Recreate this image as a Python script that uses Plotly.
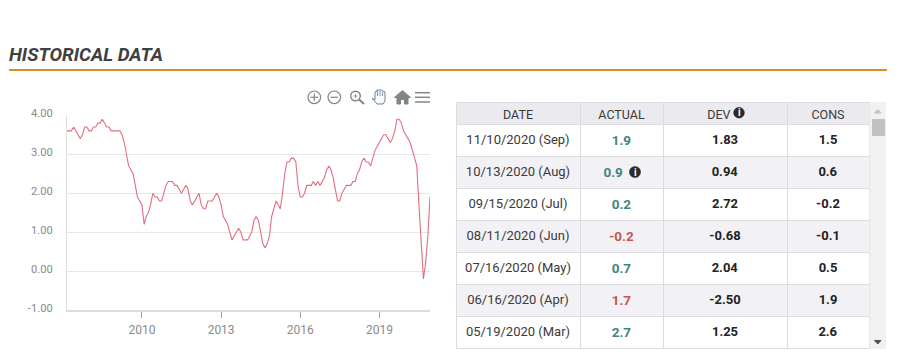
import plotly.graph_objects as go
import pandas as pd

# Monthly release dates, Feb 2007 .. Nov 2020
dates = pd.date_range("2007-02-10", periods=166, freq="MS").strftime("%Y-%m-%d").tolist()
values = [
 3.6,3.6,3.6,3.7,3.6,3.5,3.4,3.5,3.7,3.7,3.6,3.6,3.7,3.7,3.8,3.8,3.9,3.8,3.7,3.7,
 3.6,3.6,3.6,3.6,3.6,3.5,3.3,3.0,2.7,2.6,2.5,2.2,1.9,1.8,1.7,1.2,1.4,1.5,1.7,2.0,
 1.9,1.9,1.8,1.8,2.0,2.2,2.3,2.3,2.3,2.2,2.2,2.1,2.0,2.1,2.2,2.1,1.8,1.7,1.8,1.9,
 2.0,1.7,1.6,1.6,1.8,1.8,1.8,1.9,2.0,1.9,1.7,1.4,1.3,1.2,1.0,0.8,0.9,1.0,1.1,1.0,
 0.8,0.8,0.8,0.9,1.0,1.3,1.4,1.3,1.0,0.7,0.6,0.7,0.9,1.4,1.6,1.8,1.7,1.6,2.0,2.5,
 2.8,2.8,2.9,2.9,2.8,2.2,1.9,1.9,2.0,2.2,2.2,2.2,2.3,2.2,2.3,2.2,2.3,2.4,2.6,2.7,
 2.6,2.4,2.1,1.8,1.8,2.0,2.1,2.2,2.2,2.2,2.3,2.3,2.5,2.6,2.8,2.9,2.8,2.8,2.7,2.9,
 3.1,3.2,3.3,3.4,3.5,3.5,3.4,3.3,3.4,3.6,3.9,3.9,3.8,3.6,3.5,3.4,3.3,3.1,2.9,2.7,
 1.7,0.7,-0.2,0.2,0.9,1.9]
y_ticks = [4, 3, 2, 1, 0, -1]
y_labels = ["4.00", "3.00", "2.00", "1.00", "0.00", "-1.00"]
x_ticks = ["2010-01-01", "2013-01-01", "2016-01-01", "2019-01-01"]
x_labels = ["2010", "2013", "2016", "2019"]

headers = ["DATE", "ACTUAL", "DEV", "CONS"]
t_dates = ["11/10/2020 (Sep)", "10/13/2020 (Aug)", "09/15/2020 (Jul)", "08/11/2020 (Jun)",
           "07/16/2020 (May)", "06/16/2020 (Apr)", "05/19/2020 (Mar)"]
t_actual = ["1.9", "0.9", "0.2", "-0.2", "0.7", "1.7", "2.7"]
t_dev = ["1.83", "0.94", "2.72", "-0.68", "2.04", "-2.50", "1.25"]
t_cons = ["1.5", "0.6", "-0.2", "-0.1", "0.5", "1.9", "2.6"]

W, H = 902, 355
GREEN, RED = "#3f8683", "#c4564f"
DARK = "#3a3a3a"
ICON = "#7f8589"
FONT = "Roboto"

def px(x): return x / W
def py(y): return 1 - y / H

def path(*items):
    out = []
    for it in items:
        if isinstance(it, str):
            out.append(it)
        else:
            out.append(f"{px(it[0]):.5f},{py(it[1]):.5f}")
    return " ".join(out)

shapes, annos = [], []
def rect(x0, y0, x1, y1, fill, line=None):
    shapes.append(dict(type="rect", xref="paper", yref="paper", x0=px(x0), x1=px(x1), y0=py(y1), y1=py(y0),
                       fillcolor=fill, line=dict(width=0 if line is None else 1, color=line or fill), layer="above"))
def seg(x0, y0, x1, y1, color, w=1.5):
    shapes.append(dict(type="line", xref="paper", yref="paper", x0=px(x0), x1=px(x1), y0=py(y0), y1=py(y1),
                       line=dict(color=color, width=w), layer="above"))
def circ(cx, cy, r, color, fill="rgba(0,0,0,0)", w=1.5):
    shapes.append(dict(type="circle", xref="paper", yref="paper", x0=px(cx-r), x1=px(cx+r), y0=py(cy+r), y1=py(cy-r),
                       line=dict(color=color, width=w), fillcolor=fill, layer="above"))
def poly(pts, fill, line=None, w=1):
    d = "M " + " L ".join(path(p) for p in pts) + " Z"
    shapes.append(dict(type="path", xref="paper", yref="paper", path=d, fillcolor=fill,
                       line=dict(color=line or fill, width=w), layer="above"))
def text(x, y, s, size=12, color=DARK, anchor="center"):
    annos.append(dict(xref="paper", yref="paper", x=px(x), y=py(y), text=s, showarrow=False, xanchor=anchor,
                      yanchor="middle", font=dict(family=FONT, size=size, color=color)))

# heading
text(7, 55, "<b><i>HISTORICAL DATA</i></b>", size=18.8, color="#404040", anchor="left")
seg(9, 70, 887, 70, "#e08a1f", 2)

# toolbar icons
circ(314.3, 97.3, 6.3, ICON, w=1.2); seg(310.5, 97.3, 318, 97.3, ICON, 1.2); seg(314.3, 93.5, 314.3, 101, ICON, 1.2)
circ(334.3, 97.3, 6.3, ICON, w=1.2); seg(330.5, 97.3, 338, 97.3, ICON, 1.2)
circ(355.5, 96, 4.8, ICON, w=1.4); seg(359, 99.5, 364, 104, ICON, 2); seg(353.5, 96, 357.5, 96, ICON, 0.8); seg(355.5, 94, 355.5, 98, ICON, 0.8)
poly([(372, 98), (375, 100), (375, 92), (377, 91), (377, 90), (379, 90), (381, 90), (383, 91), (385, 92), (385, 101), (383, 104), (377, 104)],
     "#f7f9fb", "#6e8295", 1)
seg(377.5, 91, 377.5, 96, "#6e8295", 0.8); seg(380, 91, 380, 96, "#6e8295", 0.8); seg(382.5, 92, 382.5, 96, "#6e8295", 0.8)
poly([(394.5, 97.5), (402.5, 90.5), (410.5, 97.5), (408, 97.5), (408, 104), (404.5, 104), (404.5, 99.5), (400.5, 99.5), (400.5, 104), (397, 104), (397, 97.5)], ICON)
for yy in (92.7, 97.3, 102):
    seg(415, yy, 430, yy, ICON, 1.5)

# table scrollbar
rect(869.5, 102, 886, 349, "#f1f1f1")
rect(872, 119, 885, 136, "#c1c1c1")
poly([(874.5, 113), (881, 113), (877.8, 109.5)], "#c4c4c4")
poly([(874.5, 340.5), (881, 340.5), (877.8, 344)], "#505050")

# info icons
circ(635, 172, 5.6, "#2b2b2b", fill="#2b2b2b", w=0.5)
text(635, 172, "<b>i</b>", size=10, color="white")
circ(739, 112.7, 5.4, "#2b2b2b", fill="#2b2b2b", w=0.5)
text(739, 112.7, "<b>i</b>", size=10, color="white")

fig = go.Figure()
fig.add_trace(go.Scatter(x=dates, y=values, mode="lines", line=dict(color="#e36d80", width=1.1), hoverinfo="skip"))

n = len(t_dates)
NB = "\u00a0"
date_cells = ["<span>" + d.replace(" ", NB) + "</span>" for d in t_dates]
actual_cells = [f"<b>{v}</b>" + (NB * 5 if d.startswith("10/13") else "") for v, d in zip(t_actual, t_dates)]
actual_colors = [RED if v in ("-0.2", "1.7") else GREEN for v in t_actual]
row_fill = ["#ffffff" if i % 2 == 0 else "#f2f2f6" for i in range(n)]
fig.add_trace(go.Table(
    domain=dict(x=[px(456), px(869)], y=[py(349), py(102)]),
    columnwidth=[124, 83, 124, 82],
    header=dict(values=["DATE", "ACTUAL", "DEV" + NB * 4, "CONS"], height=22,
                fill_color="#ebebef", line=dict(color="#dcdce0", width=1), align="center",
                font=dict(family=FONT, size=12.5, color=DARK)),
    cells=dict(values=[date_cells, actual_cells,
                       [f"<b>{v}</b>" for v in t_dev], [f"<b>{v}</b>" for v in t_cons]],
               height=32, align="center",
               fill_color=[row_fill] * 4, line=dict(color="#dcdce0", width=1),
               font=dict(family=FONT, size=[13, 13.5, 13, 13],
                         color=[[DARK] * n, actual_colors, ["#222222"] * n, ["#222222"] * n]))))

fig.update_layout(
    width=W, height=H, margin=dict(l=0, r=0, t=0, b=0), paper_bgcolor="white", plot_bgcolor="white",
    showlegend=False, shapes=shapes, annotations=annos,
    xaxis=dict(domain=[px(67), px(430)], range=[dates[0], dates[-1]], type="date", automargin=False,
               tickvals=x_ticks, ticktext=x_labels, ticks="outside", ticklen=6, tickcolor="#9aa7b3", tickwidth=1,
               showgrid=False, zeroline=False, showline=True, linecolor="#dcdcdc", linewidth=2,
               ticklabelstandoff=2,
               tickfont=dict(family=FONT, size=12, color="#8a8a8a")),
    yaxis=dict(domain=[py(310), py(115.3)], range=[-1, 4], tickvals=y_ticks, ticktext=y_labels, ticks="",
               automargin=False,
               showgrid=True, gridcolor="#e6e6e6", gridwidth=1.2, zeroline=False, showline=True,
               linecolor="#dfdfdf", linewidth=1, ticklabelstandoff=11, ticklabelshift=-2,
               tickfont=dict(family=FONT, size=11.2, color="#8a8a8a")),
)
fig.write_html("out.html", config=dict(displayModeBar=False),
               post_script="document.body.style.margin='0';var g=document.querySelector('.plotly-graph-div');"
                           "g.style.position='fixed';g.style.top='0';g.style.left='0';"
                           "document.documentElement.style.overflow='hidden';")
